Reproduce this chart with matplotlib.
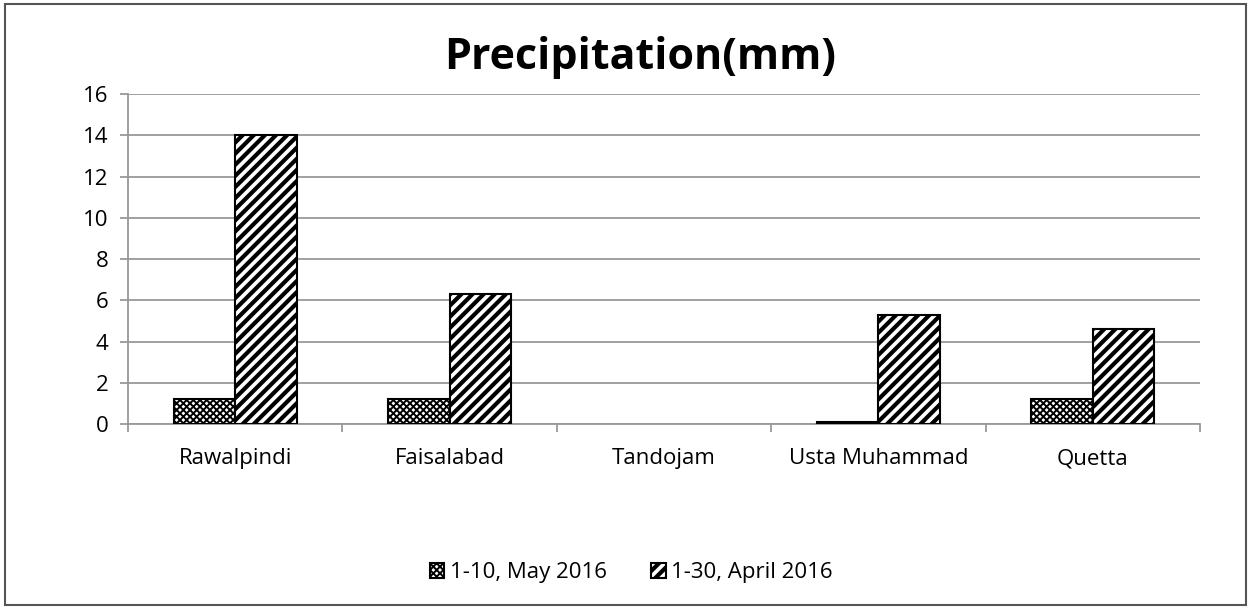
import matplotlib
matplotlib.use('Agg')
import matplotlib.pyplot as plt
import numpy as np
from matplotlib.patches import Rectangle

# Data
stations = ['Rawalpindi', 'Faisalabad', 'Tandojam', 'Usta Muhammad', 'Quetta']
may_2016 = [1.2, 1.2, 0.0, 0.1, 1.2]
april_2016 = [14.0, 6.3, 0.0, 5.3, 4.6]
series_labels = ['1-10, May 2016', '1-30, April 2016']

plt.rcParams['font.family'] = ['Open Sans', 'DejaVu Sans']

fig = plt.figure(figsize=(12.5, 6.07), dpi=100)
ax = fig.add_axes([0.1024, 0.3015, 0.8576, 0.5435])

x = np.arange(len(stations))
w = 0.286
# zero-height bars get no edge, as in the original
lw_may = [1.5 if v > 0 else 0 for v in may_2016]
lw_apr = [1.5 if v > 0 else 0 for v in april_2016]

hatch_lw = {'xxxxx': 1.4, '///': 3.0}

ax.bar(x - w / 2, may_2016, w, facecolor='white', edgecolor='black',
       hatch='xxxxx', linewidth=lw_may, label=series_labels[0], zorder=3)
ax.bar(x + w / 2, april_2016, w, facecolor='white', edgecolor='black',
       hatch='///', linewidth=lw_apr, label=series_labels[1], zorder=3)

ax.set_xlim(-0.5, len(stations) - 0.5)
ax.set_ylim(0, 16)
ax.set_yticks(range(0, 17, 2))
ax.set_xticks(x)
ax.set_xticklabels(stations)
ax.set_xticks(np.arange(-0.5, len(stations), 1), minor=True)
ax.tick_params(axis='x', which='major', length=0, pad=29, labelsize=16)
ax.tick_params(axis='x', which='minor', length=6, color='#999999', width=1.3)
ax.tick_params(axis='y', length=6, color='#999999', width=1.3, labelsize=16, pad=8)
for lbl in ax.get_xticklabels():
    lbl.set_verticalalignment('baseline')

ax.grid(axis='y', color='#999999', linewidth=1.3, zorder=0)
for s in ['top', 'right']:
    ax.spines[s].set_visible(False)
for s in ['left', 'bottom']:
    ax.spines[s].set_color('#999999')
    ax.spines[s].set_linewidth(1.3)

fig.text(0.512, 0.906, 'Precipitation(mm)', ha='center', va='center',
         fontsize=31, fontweight='bold')

leg = fig.legend(loc='center', bbox_to_anchor=(0.505, 0.057), ncol=2, frameon=False,
                 fontsize=16, handlelength=0.65, handleheight=0.65,
                 handletextpad=0.25, columnspacing=2.0)

# hatch line widths per series (bars and legend keys)
for p in list(ax.patches) + list(leg.legend_handles):
    h = p.get_hatch()
    if h in hatch_lw:
        p._hatch_linewidth = hatch_lw[h]

# outer chart border
fig.patches.append(Rectangle((0.004, 0.004), 0.993, 0.99, transform=fig.transFigure,
                             fill=False, edgecolor='#555555', linewidth=1.5))

fig.savefig('out.png', dpi=100)
